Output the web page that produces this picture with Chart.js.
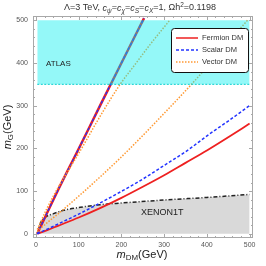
<!DOCTYPE html>
<html>
<head>
<meta charset="utf-8">
<script src="https://cdn.jsdelivr.net/npm/chart.js@4.4.1/dist/chart.umd.min.js"></script>
<style>
  html, body { margin: 0; padding: 0; background: #fff; }
  #wrap { width: 266px; height: 266px; }
</style>
</head>
<body>
<div id="wrap"><canvas id="chart" width="266" height="266"></canvas></div>
<script>
const tickValues = [0, 100, 200, 300, 400, 500];

// fermion DM (red), two branches
const fermionUpperX = [3, 50, 100, 150, 200, 253];
const fermionUpperY = [0, 99, 199, 300, 400, 505];
const fermionLowerX = [3, 25, 50, 100, 150, 200, 250, 300, 350, 400, 450, 500];
const fermionLowerY = [0, 8, 18, 38, 60, 84, 110, 137, 166, 195, 226, 258];

// scalar DM (blue)
const scalarUpperX = [3, 50, 100, 150, 200, 253];
const scalarUpperY = [0, 99, 199, 300, 400, 505];
const scalarLowerX = [3, 25, 50, 100, 150, 205, 250, 300, 350, 407, 450, 500];
const scalarLowerY = [0, 10, 22, 46, 72, 102, 128, 160, 192, 234, 264, 300];

// vector DM (orange)
const vectorUpperX = [3, 25, 50, 104, 150, 197, 230, 267, 313];
const vectorUpperY = [10, 58, 105, 195, 275, 350, 394, 443, 500];
const vectorLowerX = [3, 25, 50, 100, 150, 200, 250, 300, 364, 430, 495];
const vectorLowerY = [5, 25, 45, 88, 133, 180, 230, 282, 350, 425, 500];

// XENON1T bound
const xenonX = [3, 10, 22, 41, 65, 104, 150, 200, 300, 400, 500];
const xenonY = [0, 24, 39, 47, 55, 62, 68, 72, 79, 85, 92];

// ATLAS bound
const atlasX = [3, 500];
const atlasLow = [350, 350];
const atlasHigh = [500, 500];

const legendLabels = ["Fermion DM", "Scalar DM", "Vector DM"];

const FONT = '"Liberation Sans", Arial, sans-serif';
const RED = "#ee2020";
const BLUE = "#2233ff";
const ORANGE = "#ff9933";

function points(xs, ys) {
  return xs.map((x, i) => ({ x: x, y: ys[i] }));
}

function lineSet(xs, ys, color, width, dash, order) {
  return {
    data: points(xs, ys),
    borderColor: color,
    borderWidth: width,
    borderDash: dash,
    pointRadius: 0,
    fill: false,
    cubicInterpolationMode: "monotone",
    order: order
  };
}

// text with italic / sub / sup pieces
function richWidth(ctx, parts, size) {
  let w = 0;
  parts.forEach(p => {
    const s = p[1] === "sub" || p[1] === "sup" ? size * 0.72 : size;
    ctx.font = (p[2] ? "italic " : "") + s + "px " + FONT;
    w += ctx.measureText(p[0]).width;
  });
  return w;
}

function drawRich(ctx, parts, cx, cy, size, color) {
  let x = cx - richWidth(ctx, parts, size) / 2;
  ctx.fillStyle = color;
  ctx.textBaseline = "middle";
  ctx.textAlign = "left";
  parts.forEach(p => {
    let s = size;
    let dy = 0;
    if (p[1] === "sub") { s = size * 0.72; dy = size * 0.3; }
    if (p[1] === "sup") { s = size * 0.72; dy = -size * 0.35; }
    ctx.font = (p[2] ? "italic " : "") + s + "px " + FONT;
    ctx.fillText(p[0], x, cy + dy);
    x += ctx.measureText(p[0]).width;
  });
}

const decor = {
  id: "decor",
  afterDatasetsDraw(chart) {
    const ctx = chart.ctx;
    const a = chart.chartArea;
    const xs = chart.scales.x;
    const ys = chart.scales.y;

    ctx.save();

    // frame + inward ticks
    ctx.strokeStyle = "#a8a8a8";
    ctx.lineWidth = 1;
    ctx.strokeRect(a.left + 0.5, a.top + 0.5, a.right - a.left - 1, a.bottom - a.top - 1);
    ctx.beginPath();
    for (let v = 0; v <= 500; v += 20) {
      const len = v % 100 === 0 ? 4 : 2;
      const px = Math.round(xs.getPixelForValue(v)) + 0.5;
      ctx.moveTo(px, a.bottom); ctx.lineTo(px, a.bottom - len);
      ctx.moveTo(px, a.top); ctx.lineTo(px, a.top + len);
      const py = Math.round(ys.getPixelForValue(v)) + 0.5;
      ctx.moveTo(a.left, py); ctx.lineTo(a.left + len, py);
      ctx.moveTo(a.right, py); ctx.lineTo(a.right - len, py);
    }
    ctx.stroke();

    // region labels
    ctx.fillStyle = "#222";
    ctx.textBaseline = "middle";
    ctx.textAlign = "left";
    ctx.font = "8px " + FONT;
    ctx.fillText("ATLAS", 46, 64);
    ctx.font = "9px " + FONT;
    ctx.fillText("XENON1T", 141, 213);

    // legend
    const bx = 171, by = 28, bw = 77, bh = 44;
    ctx.fillStyle = "#fff";
    ctx.strokeStyle = "#111";
    ctx.lineWidth = 1;
    ctx.beginPath();
    ctx.roundRect(bx + 0.5, by + 0.5, bw, bh, 3);
    ctx.fill();
    ctx.stroke();
    const styles = [[RED, [], 1.5], [BLUE, [3, 2], 1.5], [ORANGE, [1.5, 1.5], 1.5]];
    legendLabels.forEach((label, i) => {
      const y = 38 + i * 12;
      ctx.strokeStyle = styles[i][0];
      ctx.setLineDash(styles[i][1]);
      ctx.lineWidth = styles[i][2];
      ctx.beginPath();
      ctx.moveTo(176, y); ctx.lineTo(198, y);
      ctx.stroke();
      ctx.setLineDash([]);
      ctx.fillStyle = "#333";
      ctx.font = "7.5px " + FONT;
      ctx.fillText(label, 202, y);
    });

    // title and axis titles
    drawRich(ctx, [
      ["Λ=3 TeV, "], ["c", "", true], ["ψ", "sub", true], ["="],
      ["c", "", true], ["χ", "sub", true], ["="],
      ["c", "", true], ["S", "sub", true], ["="],
      ["c", "", true], ["X", "sub", true], ["=1, Ωh"], ["2", "sup"], ["=0.1198"]
    ], 140, 8, 9, "#333");

    drawRich(ctx, [["m", "", true], ["DM", "sub"], ["(GeV)"]], 142, 255, 11, "#222");

    ctx.translate(8, 127);
    ctx.rotate(-Math.PI / 2);
    drawRich(ctx, [["m", "", true], ["G", "sub"], ["(GeV)"]], 0, 0, 11, "#222");

    ctx.restore();
  }
};

const datasets = [
  {
    data: points(atlasX, atlasHigh),
    borderWidth: 0,
    pointRadius: 0,
    backgroundColor: "rgba(0, 238, 238, 0.42)",
    fill: "+1",
    order: 0
  },
  lineSet(atlasX, atlasLow, "#00c8c8", 1, [2, 1.5], 0),
  Object.assign(lineSet(xenonX, xenonY, "#222", 1.5, [4, 2, 1, 2], 9), {
    fill: "origin",
    backgroundColor: "#d9d9d9"
  }),
  lineSet(fermionUpperX, fermionUpperY, RED, 2.5, [], 5),
  lineSet(fermionLowerX, fermionLowerY, RED, 1.8, [], 5),
  lineSet(scalarUpperX, scalarUpperY, BLUE, 1.3, [3, 2], 4),
  lineSet(scalarLowerX, scalarLowerY, BLUE, 1.5, [3, 2], 4),
  lineSet(vectorUpperX, vectorUpperY, ORANGE, 1.5, [1.5, 1.5], 3),
  lineSet(vectorLowerX, vectorLowerY, ORANGE, 1.5, [1.5, 1.5], 3)
];

function setTicks(scale) {
  scale.ticks = tickValues.map(v => ({ value: v }));
}

new Chart(document.getElementById("chart"), {
  type: "line",
  data: { datasets: datasets },
  options: {
    responsive: false,
    animation: false,
    devicePixelRatio: 1,
    layout: { padding: { top: 16, right: 13, left: 0, bottom: 0 } },
    plugins: {
      legend: { display: false },
      tooltip: { enabled: false }
    },
    scales: {
      x: {
        type: "linear",
        min: -7,
        max: 508,
        afterBuildTicks: setTicks,
        afterFit(scale) { scale.height = 28; },
        grid: { display: false, drawTicks: false },
        border: { display: false },
        ticks: { font: { size: 7, family: FONT }, color: "#555", padding: 3, maxRotation: 0 }
      },
      y: {
        type: "linear",
        min: -10,
        max: 510,
        afterBuildTicks: setTicks,
        afterFit(scale) { scale.width = 33; },
        grid: { display: false, drawTicks: false },
        border: { display: false },
        ticks: { font: { size: 7, family: FONT }, color: "#555", padding: 5 }
      }
    }
  },
  plugins: [decor]
});
</script>
</body>
</html>
